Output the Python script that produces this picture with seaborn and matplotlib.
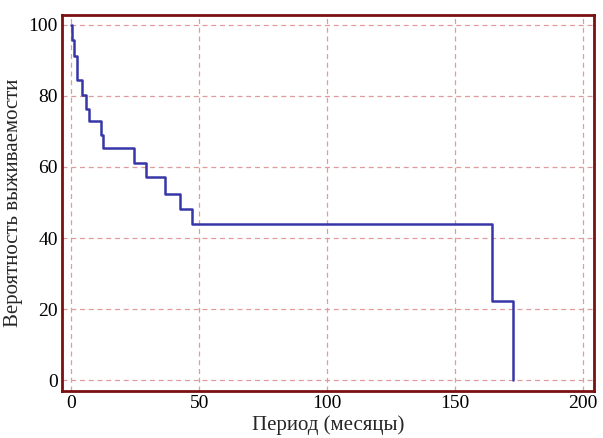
import matplotlib
matplotlib.use("Agg")
import matplotlib.pyplot as plt
import seaborn as sns
import pandas as pd
from matplotlib.ticker import MultipleLocator

# Data (Kaplan-Meier style step curve)
months = [0, 0.4, 1.0, 2.2, 4.3, 5.6, 6.9, 11.7, 12.2, 24.5, 29.0, 36.8, 42.6, 47.1, 164.5, 172.8]
survival = [100, 95.7, 91.3, 84.5, 80.3, 76.4, 72.8, 69.0, 65.3, 61.1, 57.1, 52.5, 48.2, 44.0, 22.2, 0]

x_label = "Период (месяцы)"
y_label = "Вероятность выживаемости"
x_ticks = [0, 50, 100, 150, 200]
y_ticks = [0, 20, 40, 60, 80, 100]

df = pd.DataFrame({"t": months, "s": survival})

sns.set_style("white")
plt.rcParams["font.family"] = ["Liberation Serif", "DejaVu Serif"]

fig = plt.figure(figsize=(6.03, 4.38), dpi=100)
ax = fig.add_axes([62 / 603, 1 - 391 / 438, (594 - 62) / 603, (391 - 15) / 438])

sns.lineplot(data=df, x="t", y="s", ax=ax, drawstyle="steps-post",
             color="#3636a8", linewidth=1.8)

frame = "#7a1010"
ax.set_xlim(-3.7, 204.5)
ax.set_ylim(-3.0, 102.7)
ax.set_xticks(x_ticks)
ax.set_yticks(y_ticks)
ax.yaxis.set_minor_locator(MultipleLocator(10))

ax.grid(True, which="major", color="#e09c9c", linestyle=(0, (4, 3)), linewidth=0.9)
for sp in ax.spines.values():
    sp.set_color(frame)
    sp.set_linewidth(2)

ax.tick_params(axis="both", which="major", direction="in", length=5, width=2,
               color=frame, labelsize=14, labelcolor="black", pad=3)
ax.tick_params(axis="y", which="minor", direction="in", length=3, width=2,
               color=frame)

ax.set_xlabel(x_label, fontsize=15, labelpad=2)
ax.set_ylabel(y_label, fontsize=15, labelpad=4)

fig.savefig("out.png", dpi=100)
